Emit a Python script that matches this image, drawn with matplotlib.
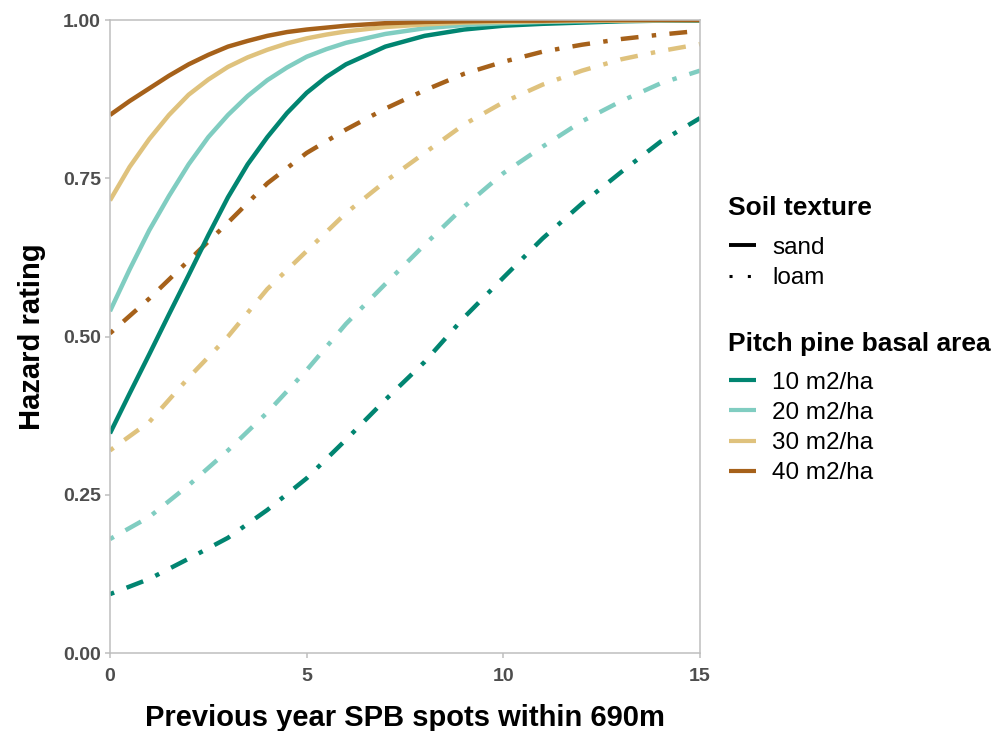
import matplotlib
matplotlib.use("Agg")
import matplotlib.pyplot as plt
from matplotlib.lines import Line2D

plt.rcParams['font.family'] = ['Liberation Sans', 'DejaVu Sans']

# previous year SPB spots (x) and predicted hazard rating
# sand curves bend quickly, so they were read at a finer step near the start
spots_sand = [0, 0.5, 1, 1.5, 2, 2.5, 3, 3.5, 4, 4.5, 5, 5.5, 6, 7, 8, 9, 10,
              11, 12, 13, 14, 15]
spots_loam = [0, 1, 2, 3, 4, 5, 6, 7, 8, 9, 10, 11, 12, 13, 14, 15]

sand_10 = [0.347, 0.410, 0.472, 0.535, 0.597, 0.660, 0.720, 0.772, 0.815, 0.853,
           0.885, 0.910, 0.930, 0.958, 0.975, 0.985, 0.991, 0.994, 0.996, 0.998,
           0.999, 0.999]
sand_20 = [0.540, 0.606, 0.668, 0.722, 0.772, 0.815, 0.850, 0.880, 0.905, 0.925,
           0.942, 0.954, 0.964, 0.978, 0.987, 0.992, 0.995, 0.997, 0.998, 0.999,
           0.999, 1.000]
sand_30 = [0.715, 0.768, 0.812, 0.850, 0.882, 0.906, 0.926, 0.941, 0.953, 0.963,
           0.971, 0.977, 0.982, 0.989, 0.993, 0.996, 0.997, 0.998, 0.999, 0.999,
           1.000, 1.000]
sand_40 = [0.850, 0.872, 0.892, 0.912, 0.930, 0.945, 0.958, 0.967, 0.975, 0.981,
           0.985, 0.988, 0.991, 0.995, 0.997, 0.998, 0.999, 0.999, 1.000, 1.000,
           1.000, 1.000]

loam_10 = [0.093, 0.117, 0.149, 0.182, 0.226, 0.276, 0.337, 0.400, 0.460, 0.530,
           0.593, 0.655, 0.710, 0.760, 0.808, 0.845]
loam_20 = [0.180, 0.215, 0.265, 0.320, 0.380, 0.447, 0.520, 0.583, 0.645, 0.705,
           0.758, 0.800, 0.840, 0.872, 0.900, 0.920]
loam_30 = [0.320, 0.365, 0.435, 0.500, 0.575, 0.635, 0.695, 0.745, 0.790, 0.835,
           0.870, 0.898, 0.920, 0.938, 0.951, 0.962]
loam_40 = [0.505, 0.560, 0.620, 0.680, 0.742, 0.790, 0.827, 0.860, 0.889, 0.915,
           0.934, 0.950, 0.961, 0.970, 0.977, 0.983]

basal_labels = ['10 m2/ha', '20 m2/ha', '30 m2/ha', '40 m2/ha']
colores = ['#018571', '#80CDC1', '#DFC27D', '#A6611A']
sand = [sand_10, sand_20, sand_30, sand_40]
loam = [loam_10, loam_20, loam_30, loam_40]

y_ticks = [0, 0.25, 0.5, 0.75, 1.0]
y_tick_labels = ['0.00', '0.25', '0.50', '0.75', '1.00']
x_ticks = [0, 5, 10, 15]

dotdash = (0, (1, 3, 4, 3))

fig = plt.figure(figsize=(9.97, 7.31), dpi=100)
ax = fig.add_axes([0.1103, 0.1067, 0.5918, 0.8659])

for serie, col in zip(loam, colores):
    ax.plot(spots_loam, serie, color=col, lw=3.2, linestyle=dotdash,
            dash_capstyle='butt')
for serie, col in zip(sand, colores):
    ax.plot(spots_sand, serie, color=col, lw=3.2, solid_capstyle='butt',
            solid_joinstyle='round')

ax.set_xlim(0, 15)
ax.set_ylim(0, 1)
ax.set_xticks(x_ticks)
ax.set_yticks(y_ticks)
ax.set_yticklabels(y_tick_labels)

gris = '#BEBEBE'
for s in ax.spines.values():
    s.set_color(gris)
    s.set_linewidth(1.1)
ax.tick_params(direction='out', length=3.5, width=1.1, color=gris,
               labelsize=14, labelcolor='#4D4D4D', pad=3)
ax.tick_params(axis='x', pad=7)
for lab in ax.get_xticklabels() + ax.get_yticklabels():
    lab.set_fontweight('bold')

# the reference crops this title at the bottom edge; keep it just inside
ax.set_xlabel('Previous year SPB spots within 690m', fontsize=21,
              fontweight='bold', labelpad=14)
ax.set_ylabel('Hazard rating', fontsize=21, fontweight='bold', labelpad=12)

# legend: soil texture
fig.text(728 / 997, 1 - 208 / 731, 'Soil texture', fontsize=19,
         fontweight='bold', va='center', ha='left')
h_soil = [Line2D([], [], color='black', lw=2.8, solid_capstyle='butt'),
          Line2D([], [], color='black', lw=2.2, linestyle=(0, (1, 5)),
                 dash_capstyle='butt')]
leg1 = ax.legend(h_soil, ['sand', 'loam'], loc='center left',
                 bbox_to_anchor=(729 / 997, 1 - 263 / 731),
                 bbox_transform=fig.transFigure, frameon=False,
                 fontsize=17.5, handlelength=1.1, handletextpad=0.68,
                 labelspacing=0.33, borderpad=0, borderaxespad=0)
ax.add_artist(leg1)

# legend: pitch pine basal area
fig.text(728 / 997, 1 - 344 / 731, 'Pitch pine basal area', fontsize=19,
         fontweight='bold', va='center', ha='left')
h_ba = [Line2D([], [], color=c, lw=3.0, solid_capstyle='butt') for c in colores]
leg2 = ax.legend(h_ba, basal_labels, loc='center left',
                 bbox_to_anchor=(729 / 997, 1 - 428 / 731),
                 bbox_transform=fig.transFigure, frameon=False,
                 fontsize=17.5, handlelength=1.1, handletextpad=0.68,
                 labelspacing=0.33, borderpad=0, borderaxespad=0)

fig.savefig('out.png', dpi=100)
